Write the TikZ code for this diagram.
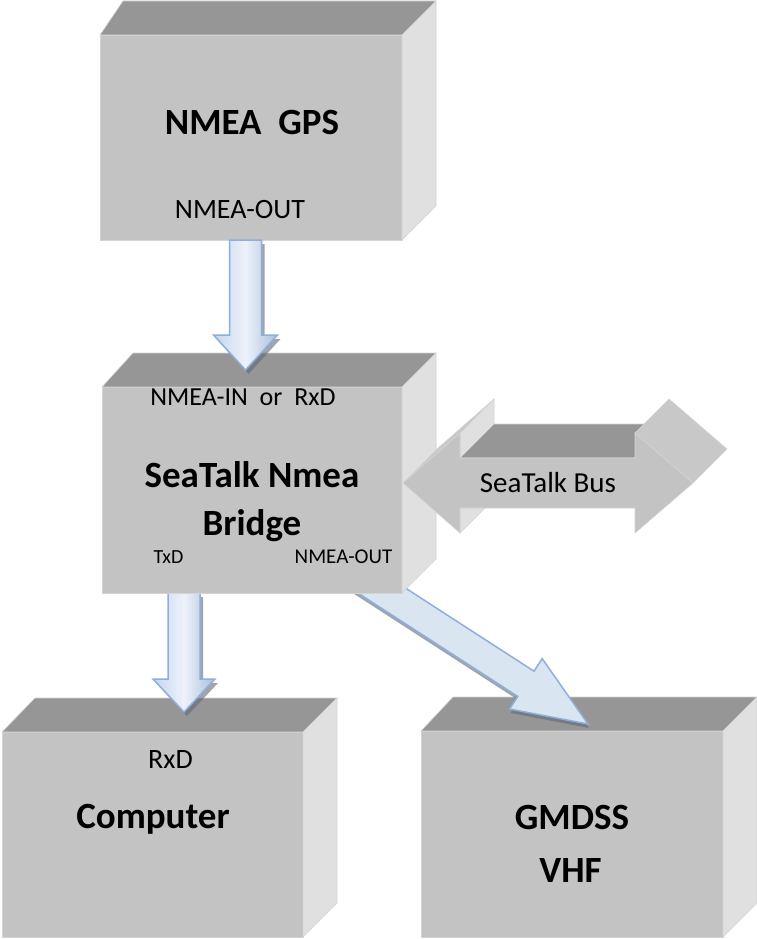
\documentclass[tikz,border=0pt]{standalone}
\usepackage{fontspec}
\setmainfont{Carlito}
\usetikzlibrary{calc}
\definecolor{frontgray}{HTML}{C3C3C3}
\definecolor{topgray}{HTML}{969696}
\definecolor{sidegray}{HTML}{E0E0E0}
\definecolor{slantgray}{HTML}{C8C8C8}
\definecolor{edgegray}{HTML}{D4D4D4}
\definecolor{arrline}{HTML}{8FAEDA}
\definecolor{arrfill}{HTML}{DAE5F2}
\definecolor{arrleft}{HTML}{C4D6EE}
\definecolor{arrmid}{HTML}{EDF2FA}
\definecolor{arrright}{HTML}{A9BEDA}
\definecolor{shadowgray}{HTML}{5F6A78}
\tikzset{
  cubefront/.style={rectangle, fill=frontgray, draw=edgegray, line width=0.6, inner sep=0, outer sep=0},
  topface/.style={fill=topgray, draw=edgegray, line width=0.6},
  sideface/.style={fill=sidegray, draw=edgegray, line width=0.6},
  slantface/.style={fill=slantgray, draw=edgegray, line width=0.6},
  busfront/.style={fill=frontgray, draw=edgegray, line width=0.6},
  blkshade/.style={draw=arrline, line width=1.5, line join=miter, left color=arrleft, right color=arrright, middle color=arrmid},
  blkflat/.style={draw=arrline, line width=1.5, line join=miter, fill=arrfill},
  blkshadow/.style={fill=shadowgray, opacity=0.6, draw=none},
  bigbold/.style={font=\fontsize{37}{44}\selectfont\bfseries, anchor=base, inner sep=0},
  lbl/.style={anchor=base, inner sep=0},
}
% block arrow from a named tail to a named tip, with a canvas offset (#7,#8)
\newcommand\blkarrow[8]{%
  \path let \p1=(#2), \p2=(#3) in \pgfextra{%
    \pgfmathsetmacro\bkang{atan2(\y2-\y1,\x2-\x1)}%
    \pgfmathsetmacro\bklen{veclen(\x2-\x1,\y2-\y1)}%
    \global\let\BKang\bkang \global\let\BKlen\bklen};
  \begin{scope}[shift={(#3)}, xshift=#7, yshift=#8, rotate=\BKang]
    \path[#1] (0,0) -- (-#4,#5) -- (-#4,#6) -- (-\BKlen,#6) -- (-\BKlen,-#6) -- (-#4,-#6) -- (-#4,-#5) -- cycle;
  \end{scope}}
% downward block arrow, drawn in canvas coordinates (for a horizontal gradient)
\newcommand\vblkarrow[6]{%
  \path[#1] (#3) -- ($(#3)+(-#5,#4)$) -- ($(#3)+(-#6,#4)$) -- ($(#3|-#2)+(-#6,0)$)
    -- ($(#3|-#2)+(#6,0)$) -- ($(#3)+(#6,#4)$) -- ($(#3)+(#5,#4)$) -- cycle;}
% 3D faces of a cube node
\newcommand\cubefaces[2]{%
  \path[topface] (#1.north west) -- ++(#2,34) -- ($(#1.north east)+(34,34)$) -- (#1.north east) -- cycle;
  \path[sideface] (#1.north east) -- ++(34,34) -- ($(#1.south east)+(34,34)$) -- (#1.south east) -- cycle;}
\begin{document}
\begin{tikzpicture}[x=1pt,y=1pt]
\useasboundingbox (0,0) rectangle (757,-939);
\fill[white] (0,0) rectangle (757,-939);

% bottom boxes
\node[cubefront, minimum width=302, minimum height=206, anchor=north west] (gmdss) at (421,-731) {};
\cubefaces{gmdss}{32}
\node[cubefront, minimum width=301, minimum height=205, anchor=north west] (computer) at (2,-732) {};
\cubefaces{computer}{33}

% arrows out of the bridge
\coordinate (dtail) at (353,-572);
\coordinate (dtip) at (588,-724);
\blkarrow{blkshadow}{dtail}{dtip}{74}{30}{15}{1}{-4}
\blkarrow{blkflat}{dtail}{dtip}{74}{30}{15}{0}{0}

\coordinate (ctail) at (184,-593);
\coordinate (ctip) at (184,-712);
\coordinate (ctails) at (187,-597);
\coordinate (ctips) at (187,-716);
\vblkarrow{blkshadow}{ctails}{ctips}{33}{31}{16}
\vblkarrow{blkshade}{ctail}{ctip}{33}{31}{16}

% bridge box
\node[cubefront, minimum width=300, minimum height=206, anchor=north west] (bridge) at (102,-387) {};
\cubefaces{bridge}{31}

% SeaTalk bus double arrow (3D)
\coordinate (bustip) at (403,-483);
\begin{scope}[shift={(bustip)}]
  \path[sideface] (57,50) -- (57,25) -- (91,59) -- (91,84) -- cycle;
  \path[sideface] (57,-25) -- (57,-50) -- (91,-16) -- (91,9) -- cycle;
  \path[slantface] (0,0) -- (57,50) -- (91,84) -- (34,34) -- cycle;
  \path[topface] (57,25) -- (232,25) -- (266,59) -- (91,59) -- cycle;
  \path[slantface] (232,50) -- (290,0) -- (324,34) -- (266,84) -- cycle;
  \path[busfront] (0,0) -- (57,50) -- (57,25) -- (232,25) -- (232,50) -- (290,0) -- (232,-50) -- (232,-25) -- (57,-25) -- (57,-50) -- cycle;
\end{scope}

% top box
\node[cubefront, minimum width=302, minimum height=205, anchor=north west] (gps) at (100,-35) {};
\cubefaces{gps}{23}

\coordinate (atail) at (245,-240);
\coordinate (atip) at (245.5,-370);
\coordinate (atails) at (248.5,-244);
\coordinate (atips) at (248.5,-374);
\vblkarrow{blkshadow}{atails}{atips}{35}{32}{16}
\vblkarrow{blkshade}{atail}{atip}{35}{32}{16}

% texts
\node[bigbold] (tgps) at (252,-135) {NMEA\ \ GPS};
\node[lbl, font=\fontsize{28}{34}\selectfont] (tgpsout) at (240,-218) {NMEA-OUT};
\node[lbl, font=\fontsize{26}{31}\selectfont] (tbin) at (243,-405) {NMEA-IN\ \ or\ \ RxD};
\node[bigbold] (tbr1) at (252,-487) {SeaTalk Nmea};
\node[bigbold] (tbr2) at (252,-535) {Bridge};
\node[lbl, font=\fontsize{20}{24}\selectfont] (ttxd) at (168.5,-563) {TxD};
\node[lbl, font=\fontsize{21}{25}\selectfont] (tbout) at (343.5,-563) {NMEA-OUT};
\node[lbl, font=\fontsize{29}{35}\selectfont] (tbus) at (548,-492) {SeaTalk Bus};
\node[lbl, font=\fontsize{28}{34}\selectfont] (trxd) at (170.5,-768) {RxD};
\node[bigbold] (tcomp) at (153,-828) {Computer};
\node[bigbold] (tgm1) at (572,-829) {GMDSS};
\node[bigbold] (tgm2) at (570.5,-882) {VHF};
\end{tikzpicture}
\end{document}
